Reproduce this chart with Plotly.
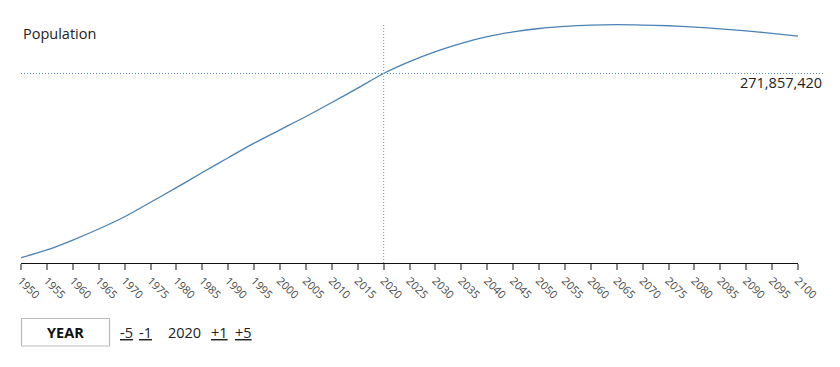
import plotly.graph_objects as go

# ---- data ----
years = list(range(1950, 2101, 5))
population = [
    69.5e6, 77.96e6, 88.9e6, 101.0e6, 114.5e6, 130.4e6, 146.4e6, 163.1e6,
    179.3e6, 195.3e6, 210.0e6, 224.6e6, 240.0e6, 255.8e6, 271857420,
    284.8e6, 295.8e6, 305.0e6, 312.3e6, 317.5e6, 321.3e6, 323.7e6, 325.1e6,
    325.5e6, 325.1e6, 324.3e6, 322.9e6, 320.9e6, 318.7e6, 316.0e6, 312.9e6,
]
selected_year = 2020
selected_value = 271857420
tick_labels = [str(y) for y in years]
title_text = "Population"
controls = ["-5", "-1", "2020", "+1", "+5"]

W, H = 840, 367
OX, OY = 8, 8  # default page body margin offset
FONT = "Open Sans, Noto Sans, sans-serif"
LINE = "#4a82b6"
DOT = "#4f8fcc"

def px(x):
    return (x - OX) / W

def py(y):
    return 1 - (y - OY) / H

fig = go.Figure()
fig.add_trace(go.Scatter(
    x=years, y=population, mode="lines",
    line=dict(color=LINE, width=1.3, shape="spline", smoothing=0.8),
    hoverinfo="skip", showlegend=False,
))

fig.update_layout(
    width=W, height=H, autosize=False,
    margin=dict(l=0, r=0, t=0, b=0, pad=0),
    paper_bgcolor="white", plot_bgcolor="white",
    font=dict(family=FONT, color="#222"),
    xaxis=dict(
        domain=[px(21), px(798)], range=[1950, 2100], automargin=False,
        tickmode="array", tickvals=years, ticktext=tick_labels,
        tickangle=45, tickfont=dict(size=11, color="#4a4a4a"),
        ticks="outside", ticklen=6, tickcolor="#888", tickwidth=1.5,
        showline=True, linecolor="#111", linewidth=1.2,
        showgrid=False, zeroline=False, fixedrange=True,
    ),
    yaxis=dict(
        domain=[py(263), py(20)], range=[63.66e6, 330.63e6], automargin=False,
        showticklabels=False, showgrid=False, zeroline=False,
        showline=False, ticks="",
    ),
    shapes=[
        dict(type="line", xref="paper", yref="y",
             x0=px(21), x1=px(823), y0=selected_value, y1=selected_value,
             line=dict(color=DOT, width=1.2, dash="1px,2px")),
        dict(type="line", xref="x", yref="paper",
             x0=selected_year, x1=selected_year, y0=py(263), y1=py(25),
             line=dict(color="#7ea6cf", width=1.2, dash="1px,2px")),
        dict(type="rect", xref="paper", yref="paper",
             x0=px(21.5), x1=px(109.5), y0=py(346), y1=py(318.5),
             line=dict(color="#bbbbbb", width=1.2), fillcolor="white"),
    ],
)

ann = []
ann.append(dict(text=title_text, x=px(21), y=py(33), xref="paper", yref="paper",
                xanchor="left", yanchor="middle", showarrow=False,
                font=dict(size=14.5, color="#222", family=FONT)))
ann.append(dict(text=f"{selected_value:,}", x=px(824), y=py(82.5), xref="paper", yref="paper",
                xanchor="right", yanchor="middle", showarrow=False,
                font=dict(size=14.5, color="#222", family=FONT)))
ann.append(dict(text="<b>YEAR</b>", x=px(65.5), y=py(332), xref="paper", yref="paper",
                xanchor="center", yanchor="middle", showarrow=False,
                font=dict(size=14.5, color="#111", family=FONT)))
ctrl_x = [126, 145.5, 184, 219.5, 243.5]
for label, cx in zip(controls, ctrl_x):
    txt = label if label == str(selected_year) else f"<u>{label}</u>"
    ann.append(dict(text=txt, x=px(cx), y=py(332), xref="paper", yref="paper",
                    xanchor="center", yanchor="middle", showarrow=False,
                    font=dict(size=14.5, color="#222", family=FONT)))
fig.update_layout(annotations=ann)

fig.write_html("out.html", config={"displayModeBar": False})
